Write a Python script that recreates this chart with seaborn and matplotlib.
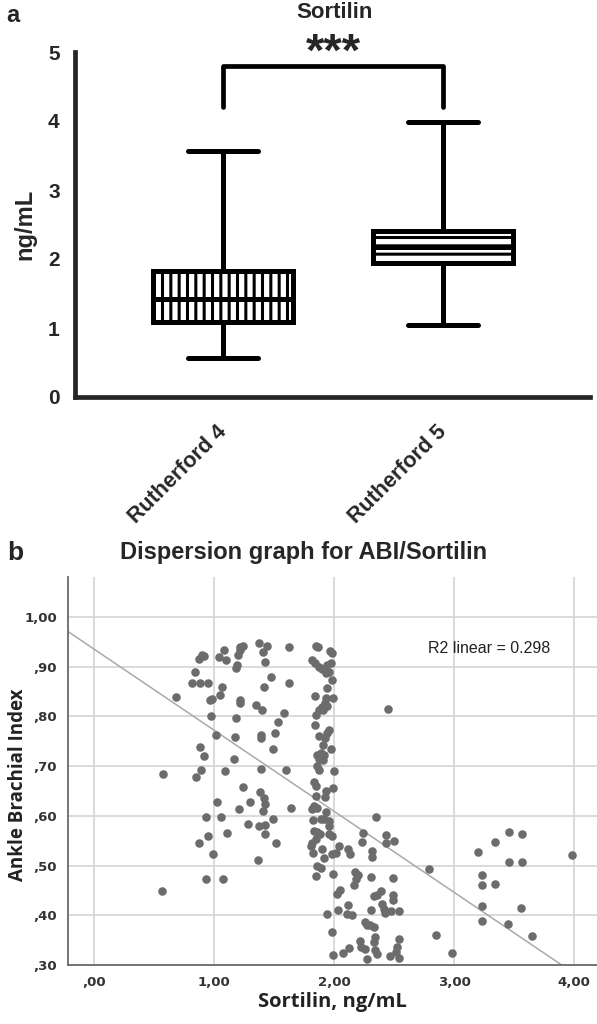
import matplotlib
matplotlib.use("Agg")
import matplotlib.pyplot as plt
import numpy as np
import pandas as pd
import seaborn as sns

# ---- panel a: box plot (min, Q1, median, Q3, max per group) ----
groups = ["Rutherford 4", "Rutherford 5"]
r4_summary = [0.57, 1.09, 1.42, 1.82, 3.57]
r5_summary = [1.05, 1.94, 2.17, 2.41, 3.99]
box_hatches = ["||", "--"]

# ---- panel b: scatter of ABI vs sortilin ----
sortilin = [
    0.575, 0.569, 0.681, 0.845, 0.817, 0.882, 0.949, 0.873, 0.901, 0.917,
    0.885, 0.920, 0.895, 0.850, 0.872, 0.933, 0.952, 0.936, 0.965, 0.985,
    0.977, 1.014, 0.990, 1.028, 1.055, 1.077, 1.090, 1.109, 1.042, 1.085,
    1.099, 1.051, 1.062, 1.183, 1.192, 1.203, 1.220, 1.214, 1.237, 1.214,
    1.220, 1.183, 1.175, 1.169, 1.237, 1.208, 1.281, 1.300, 1.364, 1.346,
    1.375, 1.408, 1.442, 1.423, 1.417, 1.403, 1.394, 1.394, 1.394, 1.383,
    1.415, 1.422, 1.406, 1.374, 1.422, 1.428, 1.476, 1.492, 1.490, 1.518,
    1.504, 1.532, 1.583, 1.597, 1.628, 1.628, 1.639,
    1.847, 1.869, 1.967, 1.986, 1.814, 1.842, 1.875, 1.903, 1.944, 1.972,
    1.925, 1.958, 1.931, 1.981, 1.944, 1.842, 1.931, 1.992, 1.925, 1.897,
    1.875, 1.906, 1.944, 1.847, 1.842, 1.958, 1.944, 1.875, 1.925, 1.908,
    1.972, 1.861, 1.889, 1.917, 1.875, 1.911, 1.861, 1.875, 2.000, 1.833,
    1.847, 1.931, 1.994, 1.847, 1.833, 1.861, 1.819, 1.925, 1.936, 1.822,
    1.889, 1.917, 1.958, 1.958, 1.836, 1.858, 1.881, 1.958, 1.986, 1.817,
    1.811, 1.828, 1.850, 1.903, 1.917, 1.861, 1.889, 1.847, 1.986,
    2.352, 2.240, 2.235, 2.433, 2.497, 2.433, 2.042, 2.017, 2.115, 2.134,
    2.316, 2.316, 2.791, 1.989, 2.176, 2.196, 2.184, 2.168, 2.307, 2.492,
    2.045, 2.028, 2.391, 2.335, 2.358, 2.489, 2.494, 2.399, 2.413, 2.427,
    2.475, 2.539, 2.115, 2.031, 2.145, 2.106, 2.307, 1.939, 2.260, 2.274,
    2.302, 2.330, 1.986, 2.852, 2.539, 2.344, 2.335, 2.212, 2.223, 2.260,
    2.120, 2.078, 1.994, 2.274, 2.344, 2.358, 2.464, 2.522, 2.517, 2.539,
    2.986, 3.196, 3.341, 3.453, 3.564, 3.453, 3.564, 3.229, 3.229, 3.341,
    3.229, 3.559, 3.232, 3.447, 3.648, 3.983, 2.450,
]
abi = [
    0.684, 0.449, 0.839, 0.889, 0.867, 0.867, 0.867, 0.916, 0.924, 0.922,
    0.739, 0.720, 0.692, 0.677, 0.546, 0.598, 0.560, 0.472, 0.832, 0.834,
    0.800, 0.762, 0.523, 0.628, 0.598, 0.472, 0.689, 0.565, 0.920, 0.934,
    0.913, 0.842, 0.859, 0.898, 0.904, 0.924, 0.940, 0.933, 0.942, 0.833,
    0.826, 0.797, 0.759, 0.715, 0.657, 0.614, 0.583, 0.627, 0.511, 0.823,
    0.948, 0.929, 0.942, 0.909, 0.859, 0.812, 0.762, 0.757, 0.695, 0.647,
    0.636, 0.624, 0.610, 0.579, 0.581, 0.563, 0.879, 0.593, 0.735, 0.546,
    0.767, 0.788, 0.807, 0.692, 0.939, 0.867, 0.615,
    0.941, 0.940, 0.932, 0.927, 0.913, 0.908, 0.900, 0.895, 0.903, 0.907,
    0.893, 0.890, 0.887, 0.873, 0.857, 0.841, 0.837, 0.837, 0.827, 0.819,
    0.813, 0.813, 0.821, 0.803, 0.783, 0.773, 0.766, 0.760, 0.756, 0.743,
    0.734, 0.723, 0.726, 0.723, 0.714, 0.713, 0.700, 0.693, 0.691, 0.668,
    0.660, 0.650, 0.656, 0.640, 0.620, 0.616, 0.613, 0.637, 0.607, 0.591,
    0.593, 0.593, 0.590, 0.580, 0.570, 0.567, 0.564, 0.563, 0.560, 0.546,
    0.539, 0.526, 0.553, 0.533, 0.516, 0.500, 0.496, 0.478, 0.523,
    0.598, 0.565, 0.548, 0.561, 0.550, 0.545, 0.539, 0.525, 0.533, 0.523,
    0.530, 0.517, 0.492, 0.483, 0.487, 0.480, 0.472, 0.461, 0.477, 0.475,
    0.450, 0.443, 0.449, 0.439, 0.440, 0.440, 0.430, 0.423, 0.413, 0.405,
    0.408, 0.409, 0.420, 0.410, 0.400, 0.403, 0.411, 0.403, 0.387, 0.381,
    0.380, 0.377, 0.367, 0.361, 0.353, 0.357, 0.347, 0.348, 0.337, 0.333,
    0.335, 0.325, 0.320, 0.313, 0.330, 0.323, 0.318, 0.337, 0.327, 0.315,
    0.325, 0.527, 0.547, 0.568, 0.564, 0.507, 0.507, 0.480, 0.460, 0.463,
    0.419, 0.415, 0.388, 0.383, 0.359, 0.521, 0.814,
]
fit_intercept = 0.935
fit_slope = -0.163
r2_text = "R2 linear = 0.298"

x_ticks = [0, 1, 2, 3, 4]
x_ticklabels = [",00", "1,00", "2,00", "3,00", "4,00"]
y_ticks = [0.3, 0.4, 0.5, 0.6, 0.7, 0.8, 0.9, 1.0]
y_ticklabels = [",30", ",40", ",50", ",60", ",70", ",80", ",90", "1,00"]

sns.set_style("white")
plt.rcParams["font.family"] = ["Liberation Sans", "DejaVu Sans"]
plt.rcParams["hatch.linewidth"] = 2.2

W, H = 597, 1024
fig = plt.figure(figsize=(W / 100, H / 100), dpi=100)

# ---------------- panel a ----------------
ax1 = fig.add_axes([75 / W, 1 - 397 / H, (590 - 75) / W, (397 - 52) / H])
box_df = pd.DataFrame({"group": np.repeat(groups, 5),
                       "value": r4_summary + r5_summary})
sns.boxplot(data=box_df, x="group", y="value", whis=(0, 100), width=0.64,
            color="white", linecolor="black", linewidth=3.6, ax=ax1)
for patch, hatch in zip(ax1.patches, box_hatches):
    patch.set_hatch(hatch)

ax1.set_xlim(-0.673, 1.668)
ax1.set_ylim(0, 5)
ax1.set_yticks(range(6))
for s in ["top", "right"]:
    ax1.spines[s].set_visible(False)
for s in ["left", "bottom"]:
    ax1.spines[s].set_linewidth(3.4)
ax1.tick_params(axis="y", width=3.4, length=7, labelsize=15, pad=4)
ax1.tick_params(axis="x", width=3.4, length=7, labelsize=15.5, pad=16)
plt.setp(ax1.get_yticklabels(), fontweight="bold")
plt.setp(ax1.get_xticklabels(), fontweight="bold", rotation=45,
         ha="right", va="center", rotation_mode="anchor")
ax1.set_xlabel("")
ax1.set_ylabel("ng/mL", fontsize=17, fontweight="bold", labelpad=8)

# significance bracket
ax1.plot([0, 0, 1, 1], [4.2, 4.8, 4.8, 4.2], color="black", lw=3.4,
         clip_on=False, solid_capstyle="round")
ax1.text(0.5, 4.97, "***", ha="center", va="center", fontsize=34,
         fontweight="bold", clip_on=False)

fig.text(335 / W, 1 - 13 / H, "Sortilin", ha="center", va="center",
         fontsize=16, fontweight="bold")
fig.text(13 / W, 1 - 15 / H, "a", ha="center", va="center",
         fontsize=17, fontweight="bold")

# ---------------- panel b ----------------
ax2 = fig.add_axes([68 / W, 1 - 965 / H, 1 - 68 / W, (965 - 577) / H])
sns.scatterplot(x=sortilin, y=abi, color="#6c6c6c", s=38, linewidth=0,
                ax=ax2, zorder=3)
ax2.axline((0, fit_intercept), slope=fit_slope, color="#a9a9a9", lw=1.1,
           zorder=2)
ax2.set_xlim(-0.217, 4.19)
ax2.set_ylim(0.30, 1.08)
ax2.set_xticks(x_ticks, x_ticklabels)
ax2.set_yticks(y_ticks, y_ticklabels)
ax2.grid(True, color="#d8d8d8", lw=1.3)
ax2.set_axisbelow(True)
for s in ["top", "right"]:
    ax2.spines[s].set_visible(False)
for s in ["left", "bottom"]:
    ax2.spines[s].set_color("#6a6a6a")
    ax2.spines[s].set_linewidth(1.3)
ax2.tick_params(axis="both", length=0, pad=8, labelsize=9.5,
                labelcolor="#333333")
plt.setp(ax2.get_xticklabels() + ax2.get_yticklabels(),
         family="DejaVu Sans", fontweight="bold")
ax2.set_xlabel("Sortilin, ng/mL", fontsize=14.5, fontweight="bold",
               family="Open Sans", color="#222222", labelpad=2)
ax2.set_ylabel("Ankle Brachial Index", fontsize=13.5, fontweight="bold",
               family="Open Sans", color="#222222")
ax2.yaxis.set_label_coords(-0.075, 0.465)
ax2.text(2.78, 0.936, r2_text, ha="left", va="center", fontsize=11.5,
         color="#222222")

fig.text(304 / W, 1 - 553 / H, "Dispersion graph for ABI/Sortilin",
         ha="center", va="center", fontsize=17, fontweight="bold")
fig.text(15 / W, 1 - 553 / H, "b", ha="center", va="center",
         fontsize=19, fontweight="bold")

fig.savefig("out.png", dpi=100)
